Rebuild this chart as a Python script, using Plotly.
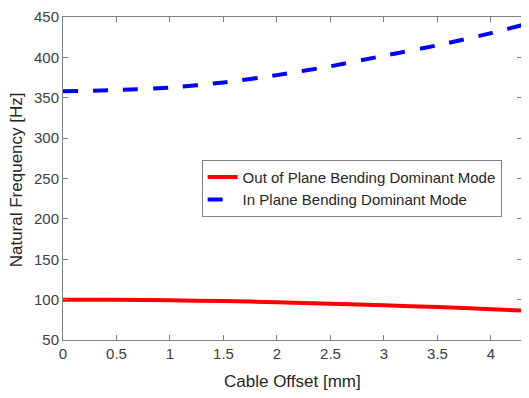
import plotly.graph_objects as go

offset_mm = [0, 0.5, 1.0, 1.5, 2.0, 2.5, 3.0, 3.5, 4.0, 4.29]
out_of_plane_hz = [100.0, 99.8, 99.2, 98.2, 96.8, 95.0, 93.0, 90.8, 88.2, 86.5]
in_plane_hz = [358.0, 359.5, 362.5, 369.0, 378.0, 389.0, 402.0, 415.0, 430.0, 440.0]

x_ticks = [0, 0.5, 1, 1.5, 2, 2.5, 3, 3.5, 4]
x_tick_text = ["0", "0.5", "1", "1.5", "2", "2.5", "3", "3.5", "4"]
y_ticks = [50, 100, 150, 200, 250, 300, 350, 400, 450]

FONT = "Liberation Sans, Arial"

fig = go.Figure()
fig.add_trace(go.Scatter(x=offset_mm, y=out_of_plane_hz, mode="lines",
                         line=dict(color="#ff0000", width=4, shape="spline", smoothing=0.6),
                         name="Out of Plane Bending Dominant Mode"))
fig.add_trace(go.Scatter(x=offset_mm, y=in_plane_hz, mode="lines",
                         line=dict(color="#0000ff", width=4, dash="15px,15px", shape="spline", smoothing=0.6),
                         name="In Plane Bending Dominant Mode"))

axis_common = dict(showline=True, linecolor="#808080", linewidth=1, mirror="ticks", ticks="inside", ticklen=5,
                   tickcolor="#808080", showgrid=False, zeroline=False, automargin=False,
                   tickfont=dict(family=FONT, size=15, color="#404040"))

fig.update_layout(
    width=521, height=390,
    margin=dict(l=55, r=7, t=9, b=58),
    plot_bgcolor="white", paper_bgcolor="white",
    xaxis=dict(range=[0, 4.29], tickvals=x_ticks, ticktext=x_tick_text, **axis_common),
    yaxis=dict(range=[50, 450], tickvals=y_ticks, **axis_common),
    legend=dict(x=0.302, y=0.47, xanchor="left", yanchor="middle", bgcolor="white", bordercolor="#808080", borderwidth=1,
                font=dict(family=FONT, size=15, color="#262626"), tracegroupgap=0, itemwidth=30),
    showlegend=True,
)

fig.add_annotation(text="Cable Offset [mm]", xref="paper", yref="paper", x=0.5, y=-0.13,
                   xanchor="center", yanchor="middle", showarrow=False,
                   font=dict(family=FONT, size=17, color="#262626"))
fig.add_annotation(text="Natural Frequency [Hz]", xref="paper", yref="paper", x=-0.102, y=0.495,
                   xanchor="center", yanchor="middle", showarrow=False, textangle=-90,
                   font=dict(family=FONT, size=17, color="#262626"))

fig.write_html("out.html")
